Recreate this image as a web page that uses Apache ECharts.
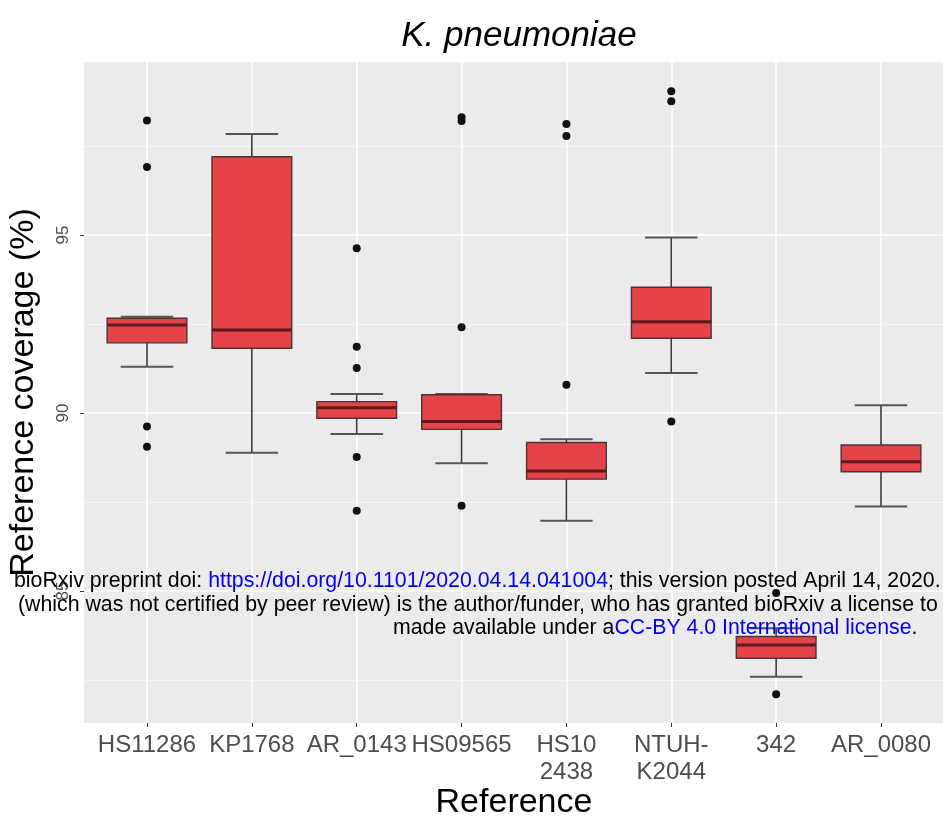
<!DOCTYPE html>
<html>
<head>
<meta charset="utf-8">
<script src="https://cdn.jsdelivr.net/npm/echarts@6/dist/echarts.min.js"></script>
<style>
html,body{margin:0;padding:0;background:#fff;}
#chart{width:943px;height:821px;}
</style>
</head>
<body>
<div id="chart"></div>
<script>
// ---- data ----
var categories = ['HS11286', 'KP1768', 'AR_0143', 'HS09565', 'HS10\n2438', 'NTUH-\nK2044', '342', 'AR_0080'];
// [min whisker, Q1, median, Q3, max whisker]
var boxStats = [
  [91.30, 91.97, 92.47, 92.66, 92.70],
  [88.88, 91.82, 92.33, 97.20, 97.84],
  [89.41, 89.85, 90.15, 90.32, 90.53],
  [88.59, 89.54, 89.76, 90.51, 90.53],
  [86.97, 88.14, 88.37, 89.17, 89.26],
  [91.12, 92.10, 92.56, 93.53, 94.93],
  [82.59, 83.11, 83.48, 83.72, 83.95],
  [87.37, 88.35, 88.63, 89.10, 90.22]
];
// outliers per category
var outliers = [
  [98.22, 96.91, 89.62, 89.05],
  [],
  [94.63, 91.86, 91.26, 88.76, 87.25],
  [98.31, 98.20, 92.41, 87.39],
  [98.12, 97.78, 90.79],
  [99.04, 98.76, 89.76],
  [84.94, 82.10],
  []
];
var majorTicks = [85, 90, 95];
var minorTicks = [82.5, 87.5, 92.5, 97.5];
var yMin = 81.29, yMax = 99.86;

// ---- build ----
var boxData = boxStats.map(function (s, i) { return [i].concat(s); });
var outlierData = [];
outliers.forEach(function (arr, i) { arr.forEach(function (v) { outlierData.push([i, v]); }); });

var FONT = 'Liberation Sans, Arial, Helvetica, sans-serif';
var chart = echarts.init(document.getElementById('chart'));

chart.setOption({
  backgroundColor: '#ffffff',
  animation: false,
  title: {
    text: 'K. pneumoniae',
    left: 514, top: 14, textAlign: 'center',
    textStyle: { fontFamily: FONT, fontStyle: 'italic', fontWeight: 'normal', fontSize: 35, color: '#000' }
  },
  grid: [
    { left: 84, right: 0, top: 62, height: 661, show: true, backgroundColor: '#EBEBEB', borderWidth: 0,
      containLabel: false, outerBoundsMode: 'none' },
    { left: 147, right: 62, top: 62, height: 661, show: false,
      containLabel: false, outerBoundsMode: 'none' }
  ],
  xAxis: [
    { type: 'value', gridIndex: 0, min: 0, max: 1, show: false },
    {
      type: 'category', gridIndex: 1, data: categories, boundaryGap: false,
      axisLine: { show: false },
      axisTick: { show: true, length: 4, lineStyle: { color: '#333', width: 1 } },
      axisLabel: { color: '#4D4D4D', fontSize: 24, fontFamily: FONT, margin: 9, lineHeight: 27, interval: 0 },
      splitLine: { show: true, lineStyle: { color: '#ffffff', width: 1.6 } },
      name: 'Reference', nameLocation: 'middle', nameGap: 63, nameMoveOverlap: false,
      nameTextStyle: { color: '#000', fontSize: 34, fontFamily: FONT }
    }
  ],
  yAxis: [
    {
      type: 'value', gridIndex: 0, min: yMin, max: yMax,
      axisLine: { show: false },
      axisTick: { show: true, length: 4, customValues: majorTicks, lineStyle: { color: '#333', width: 1 } },
      axisLabel: { show: true, customValues: majorTicks, rotate: 90, color: '#4D4D4D', fontSize: 17, fontFamily: FONT, margin: 12 },
      splitLine: { show: true, lineStyle: { color: '#ffffff', width: 1.6 } },
      name: 'Reference coverage (%)', nameLocation: 'middle', nameRotate: 90, nameGap: 43, nameMoveOverlap: false,
      nameTextStyle: { color: '#000', fontSize: 34, fontFamily: FONT }
    },
    {
      type: 'value', gridIndex: 0, min: yMin, max: yMax,
      axisLine: { show: false },
      axisTick: { show: false, customValues: minorTicks },
      axisLabel: { show: false, customValues: minorTicks },
      splitLine: { show: true, lineStyle: { color: '#F7F7F7', width: 0.9 } }
    },
    {
      type: 'value', gridIndex: 1, min: yMin, max: yMax, show: false,
      splitLine: { show: false }
    }
  ],
  series: [
    {
      type: 'custom', xAxisIndex: 1, yAxisIndex: 2, clip: false,
      encode: { x: 0, y: [1, 2, 3, 4, 5] },
      data: boxData,
      renderItem: function (params, api) {
        var x = api.value(0);
        var pMin = api.coord([x, api.value(1)]);
        var pQ1 = api.coord([x, api.value(2)]);
        var pMed = api.coord([x, api.value(3)]);
        var pQ3 = api.coord([x, api.value(4)]);
        var pMax = api.coord([x, api.value(5)]);
        var band = api.size([1, 0])[0];
        var bw = band * 0.76, cw = band * 0.5;
        var cx = pMin[0];
        var lineStyle = { stroke: '#3a3a3a', lineWidth: 1.6 };
        return {
          type: 'group',
          children: [
            { type: 'line', shape: { x1: cx, y1: pMax[1], x2: cx, y2: pMin[1] }, style: lineStyle },
            { type: 'line', shape: { x1: cx - cw / 2, y1: pMax[1], x2: cx + cw / 2, y2: pMax[1] }, style: { stroke: '#555', lineWidth: 2 } },
            { type: 'line', shape: { x1: cx - cw / 2, y1: pMin[1], x2: cx + cw / 2, y2: pMin[1] }, style: { stroke: '#555', lineWidth: 2 } },
            { type: 'rect', shape: { x: cx - bw / 2, y: pQ3[1], width: bw, height: pQ1[1] - pQ3[1] },
              style: { fill: '#E4434A', stroke: '#4a3434', lineWidth: 1.4 } },
            { type: 'line', shape: { x1: cx - bw / 2, y1: pMed[1], x2: cx + bw / 2, y2: pMed[1] },
              style: { stroke: '#5e1a1d', lineWidth: 3 } }
          ]
        };
      },
      z: 3
    },
    {
      type: 'scatter', xAxisIndex: 1, yAxisIndex: 2,
      data: outlierData, symbol: 'circle', symbolSize: 8,
      itemStyle: { color: '#111', opacity: 1 }, z: 4
    }
  ],
  graphic: [
    {
      type: 'text', left: 14, top: 571, z: 100,
      style: {
        text: '{a|bioRxiv preprint doi: }{b|https://doi.org/10.1101/2020.04.14.041004}{a|; this version posted April 14, 2020.}',
        rich: {
          a: { fill: '#000', fontSize: 21.3, fontFamily: FONT },
          b: { fill: '#0000EE', fontSize: 21.3, fontFamily: FONT }
        }
      }
    },
    {
      type: 'text', left: 18, top: 595, z: 100,
      style: {
        text: '(which was not certified by peer review) is the author/funder, who has granted bioRxiv a license to',
        fill: '#000', fontSize: 21.3, fontFamily: FONT
      }
    },
    {
      type: 'text', left: 393, top: 618, z: 100,
      style: {
        text: '{a|made available under a}{b|CC-BY 4.0 International license}{a|.}',
        rich: {
          a: { fill: '#000', fontSize: 21.3, fontFamily: FONT },
          b: { fill: '#0000EE', fontSize: 21.3, fontFamily: FONT }
        }
      }
    }
  ]
});
</script>
</body>
</html>
